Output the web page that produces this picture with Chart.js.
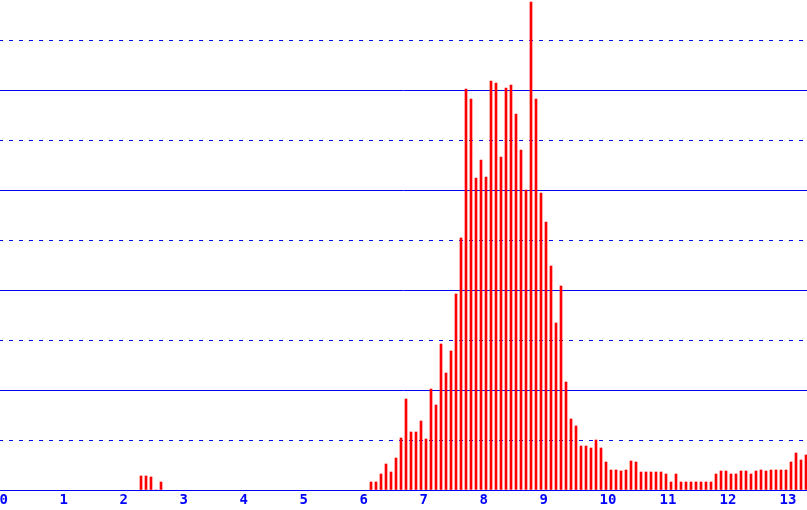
<!DOCTYPE html>
<html>
<head>
<meta charset="utf-8">
<script src="https://cdn.jsdelivr.net/npm/chart.js@4"></script>
<style>
  html, body { margin: 0; padding: 0; background: #fff; }
  #wrap { width: 807px; height: 510px; }
</style>
</head>
<body>
<div id="wrap"><canvas id="histChart"></canvas></div>
<script>
// histogram bins are 1/12 of a unit wide
const binWidth = 1 / 12;

// small group around 2.3
const lowStart = 27;
const lowValues = [0.28, 0.28, 0.26, 0, 0.16];

// main group from about 6.1 to the right edge
const mainStart = 73;
const mainValues = [
  0.16, 0.16, 0.32, 0.52, 0.36, 0.64, 1.04, 1.82, 1.16, 1.16,
  1.38, 1.02, 2.02, 1.70, 2.92, 2.34, 2.78, 3.92, 5.04, 8.02,
  7.82, 6.24, 6.60, 6.26, 8.18, 8.14, 6.66, 8.04, 8.10, 7.52,
  6.80, 6.00, 9.76, 7.82, 5.94, 5.36, 4.48, 3.34, 4.08, 2.16,
  1.42, 1.28, 0.88, 0.88, 0.84, 1.00, 0.84, 0.56, 0.40, 0.40,
  0.38, 0.40, 0.58, 0.56, 0.36, 0.36, 0.36, 0.36, 0.36, 0.32,
  0.16, 0.32, 0.16, 0.16, 0.16, 0.16, 0.16, 0.16, 0.16, 0.32,
  0.38, 0.38, 0.32, 0.32, 0.38, 0.38, 0.32, 0.38, 0.40, 0.38,
  0.40, 0.40, 0.40, 0.40, 0.56, 0.74, 0.60, 0.70
];

const xTicks = [0, 1, 2, 3, 4, 5, 6, 7, 8, 9, 10, 11, 12, 13];
const solidLines = [0, 2, 4, 6, 8];
const dashedLines = [1, 3, 5, 7, 9];

const blue = '#0000ff';
const red = '#ff0000';

const toPoints = (start, values) =>
  values.map((v, i) => ({ x: (start + i + 0.5) * binWidth, y: v }));

const hiddenY = (lines, dash) => ({
  type: 'linear',
  position: 'left',
  min: 0,
  max: 9.8,
  ticks: { display: false },
  grid: { color: blue, lineWidth: 1, drawTicks: false, tickLength: 0 },
  border: { display: false, dash: dash, dashOffset: 1 },
  afterBuildTicks: (s) => { s.ticks = lines.map((v) => ({ value: v })); },
  afterFit: (s) => { s.width = 0; }
});

new Chart(document.getElementById('histChart'), {
  type: 'bar',
  data: {
    datasets: [{
      data: [...toPoints(lowStart, lowValues), ...toPoints(mainStart, mainValues)],
      backgroundColor: red,
      borderWidth: 0,
      barThickness: 2
    }]
  },
  options: {
    responsive: true,
    maintainAspectRatio: false,
    animation: false,
    layout: { padding: 0 },
    plugins: { legend: { display: false }, tooltip: { enabled: false } },
    scales: {
      x: {
        type: 'linear',
        offset: false,
        min: -3.5 / 60,
        max: 803.5 / 60,
        grid: { display: false, drawTicks: false, offset: false },
        border: { display: true, color: blue, width: 1 },
        afterBuildTicks: (s) => { s.ticks = xTicks.map((v) => ({ value: v })); },
        afterFit: (s) => { s.height = 20; },
        ticks: {
          align: 'start',
          labelOffset: -4,
          padding: 2,
          maxRotation: 0,
          autoSkip: false,
          color: blue,
          font: { family: 'DejaVu Sans Mono', size: 14, weight: 'bold' }
        }
      },
      y: hiddenY(solidLines, []),
      y2: hiddenY(dashedLines, [4, 6])
    }
  }
});
</script>
</body>
</html>
